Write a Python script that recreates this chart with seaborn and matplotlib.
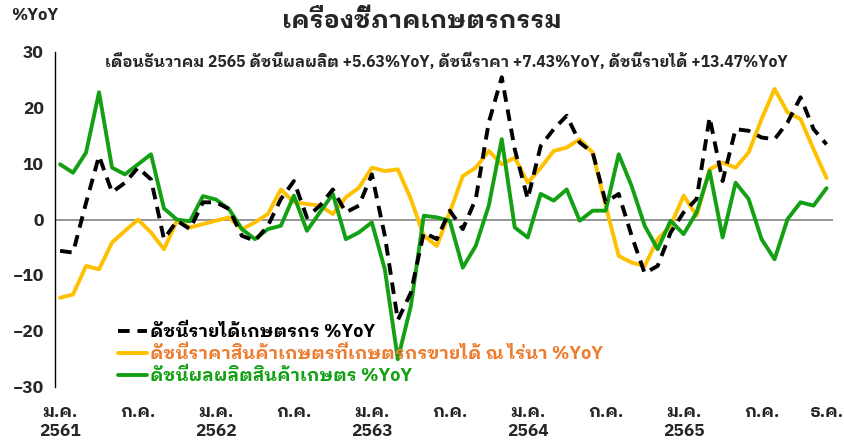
import numpy as np
import pandas as pd
import matplotlib
matplotlib.use("Agg")
import matplotlib.pyplot as plt
import seaborn as sns

# เดือน ม.ค. 2561 - ธ.ค. 2565 (60 เดือน)
months = list(range(60))

income_yoy = [-5.6, -5.9, 3.0, 11.4, 4.9, 6.6, 9.3, 7.2, -3.5, -0.2,
              -1.7, 3.1, 3.1, 1.9, -2.9, -3.8, -1.1, 3.7, 6.9, 0.4,
              2.5, 5.4, 1.3, 2.5, 8.1, -2.9, -18.0, -13.1, -2.3, -3.5,
              1.6, -1.7, 3.7, 17.4, 25.5, 12.6, 3.7, 13.2, 16.2, 18.6,
              13.8, 12.0, 3.1, 4.6, -2.9, -9.6, -8.3, -2.3, 1.3, 3.7,
              18.3, 6.9, 16.2, 15.9, 14.7, 14.4, 17.4, 21.9, 16.2, 13.47]

price_yoy = [-14.0, -13.4, -8.3, -8.9, -4.1, -2.0, 0.0, -2.3, -5.3, -0.2,
             -1.4, -0.8, -0.2, 0.4, -1.7, -0.5, 1.0, 5.4, 3.1, 2.8,
             2.5, 1.0, 4.0, 5.7, 9.3, 8.7, 9.0, 3.7, -2.9, -4.7,
             1.3, 7.8, 9.3, 12.3, 9.9, 11.1, 6.6, 9.3, 12.3, 12.9,
             14.4, 12.0, 2.5, -6.5, -7.7, -8.3, -3.5, -1.1, 4.3, 0.7,
             9.0, 10.2, 9.3, 12.0, 18.0, 23.4, 19.2, 18.0, 12.6, 7.43]

output_yoy = [9.9, 8.4, 12.0, 22.8, 9.3, 8.1, 9.9, 11.7, 2.0, 0.0,
              -0.3, 4.2, 3.6, 1.9, -1.7, -3.5, -1.7, -1.1, 4.3, -2.0,
              1.3, 4.6, -3.5, -2.3, -0.5, -8.9, -25.0, -15.5, 0.7, 0.4,
              -0.2, -8.6, -4.7, 2.5, 14.4, -1.4, -3.2, 4.6, 3.4, 5.4,
              -0.2, 1.6, 1.6, 11.7, 6.0, -1.1, -5.3, -0.2, -2.6, 1.3,
              8.7, -3.2, 6.6, 3.7, -3.5, -7.1, 0.1, 3.1, 2.5, 5.63]

labels = ["ดัชนีรายได้เกษตรกร %YoY",
          "ดัชนีราคาสินค้าเกษตรที่เกษตรกรขายได้ ณ ไร่นา %YoY",
          "ดัชนีผลผลิตสินค้าเกษตร %YoY"]

tick_pos = [0, 6, 12, 18, 24, 30, 36, 42, 48, 54, 59]
tick_lab = ["ม.ค.\n2561", "ก.ค.", "ม.ค.\n2562", "ก.ค.", "ม.ค.\n2563", "ก.ค.",
            "ม.ค.\n2564", "ก.ค.", "ม.ค.\n2565", "ก.ค.", "ธ.ค."]

sns.set_style("white")
plt.rcParams['font.family'] = ['IBM Plex Sans Thai Looped', 'Liberation Sans', 'DejaVu Sans']

df = pd.DataFrame({'month': months, 'income': income_yoy,
                   'price': price_yoy, 'output': output_yoy})

fig = plt.figure(figsize=(8.44, 4.45), dpi=100)
ax = fig.add_axes([0.065, 0.130, 0.922, 0.753])

ax.axhline(0, color='#8c8c8c', lw=1.3, zorder=1)

sns.lineplot(data=df, x='month', y='income', ax=ax, color='black', lw=2.8,
             linestyle=(0, (3, 2)), label=labels[0], zorder=4)
sns.lineplot(data=df, x='month', y='price', ax=ax, color='#FFC000', lw=2.8,
             label=labels[1], zorder=2)
sns.lineplot(data=df, x='month', y='output', ax=ax, color='#14A014', lw=2.8,
             label=labels[2], zorder=3)

ax.set_xlim(-0.4, 59.5)
ax.set_ylim(-30, 30)
ax.set_yticks([-30, -20, -10, 0, 10, 20, 30])
ax.set_xticks(tick_pos)
ax.set_xticklabels(tick_lab, fontsize=12.5, fontweight='bold', linespacing=1.35)
for t in ax.get_yticklabels():
    t.set_fontsize(12.5)
    t.set_fontweight('bold')
ax.tick_params(axis='y', direction='out', length=5, width=1, color='black', pad=3)
ax.tick_params(axis='x', length=0, pad=13)
ax.set_xlabel('')
ax.set_ylabel('')

for s in ['top', 'right', 'bottom']:
    ax.spines[s].set_visible(False)
ax.spines['left'].set_color('black')
ax.spines['left'].set_linewidth(1)

leg = ax.legend(loc='lower left', bbox_to_anchor=(0.072, -0.015), frameon=False,
                fontsize=13, handlelength=1.6, handletextpad=0.15,
                labelspacing=0.22, borderaxespad=0)
for txt, c in zip(leg.get_texts(), ['black', '#ED7D31', '#14A014']):
    txt.set_color(c)
    txt.set_fontweight('bold')

fig.text(0.50, 0.953, "เครื่องชี้ภาคเกษตรกรรม", ha='center', va='center',
         fontsize=18, fontweight='bold')
fig.text(0.529, 0.862,
         "เดือนธันวาคม 2565 ดัชนีผลผลิต +5.63%YoY, ดัชนีราคา +7.43%YoY, ดัชนีรายได้ +13.47%YoY",
         ha='center', va='center', fontsize=11.3, fontweight='bold')
fig.text(0.013, 0.965, "%YoY", ha='left', va='center', fontsize=12, fontweight='bold')

fig.savefig("out.png", dpi=100)
